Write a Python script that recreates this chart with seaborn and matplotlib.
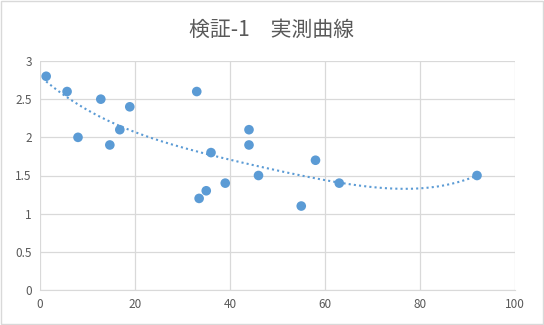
import numpy as np
import pandas as pd
import matplotlib
matplotlib.use("Agg")
import matplotlib.pyplot as plt
import seaborn as sns

x_vals = [1.3, 5.7, 8, 12.8, 14.7, 16.8, 18.9, 33, 33.5, 35, 36, 39, 44, 44, 46, 55, 58, 63, 92]
y_vals = [2.8, 2.6, 2.0, 2.5, 1.9, 2.1, 2.4, 2.6, 1.2, 1.3, 1.8, 1.4, 2.1, 1.9, 1.5, 1.1, 1.7, 1.4, 1.5]
# trend line as drawn in the source chart (read at several x positions)
trend_x = [1.3, 7, 14, 20, 27, 40, 52.6, 60, 68, 77, 85.6, 92]
trend_y = [2.71, 2.51, 2.23, 2.05, 1.91, 1.71, 1.54, 1.45, 1.35, 1.32, 1.38, 1.50]
title = "検証-1　実測曲線"
x_ticks = [0, 20, 40, 60, 80, 100]
y_ticks = [0, 0.5, 1, 1.5, 2, 2.5, 3]
y_labels = ["0", "0.5", "1", "1.5", "2", "2.5", "3"]

df = pd.DataFrame({"x": x_vals, "y": y_vals})

# smooth polynomial trend through the read values
coef = np.polyfit(trend_x, trend_y, 4)
xs = np.linspace(min(trend_x), max(trend_x), 200)
trend = pd.DataFrame({"x": xs, "y": np.polyval(coef, xs)})

sns.set_style("white")
plt.rcParams["font.family"] = ["Noto Sans CJK JP", "DejaVu Sans"]

fig = plt.figure(figsize=(5.44, 3.25), dpi=100)
ax = fig.add_axes([40 / 544, 1 - 290 / 325, 475 / 544, 229 / 325])

blue = "#5B9BD5"
sns.lineplot(data=trend, x="x", y="y", ax=ax, color=blue, linestyle=(0, (1, 1.5)),
             linewidth=1.5, zorder=2)
sns.scatterplot(data=df, x="x", y="y", ax=ax, color=blue, s=48, edgecolor="none", zorder=3)

ax.set_xlim(0, 100)
ax.set_ylim(0, 3)
ax.set_xticks(x_ticks)
ax.set_yticks(y_ticks)
ax.set_yticklabels(y_labels)
ax.grid(True, color="#d9d9d9", linewidth=0.9)
ax.set_axisbelow(True)
for side in ["top", "right", "left"]:
    ax.spines[side].set_visible(False)
ax.spines["bottom"].set_color("#d9d9d9")
ax.tick_params(axis="both", length=0, labelsize=8.5, colors="#595959", pad=6)
ax.set_xlabel("")
ax.set_ylabel("")

fig.text(0.5, 1 - 30 / 325, title, ha="center", va="center", fontsize=15, color="#595959")

# outer chart border
fig.patches.append(plt.Rectangle((0.002, 0.003), 0.996, 0.994, transform=fig.transFigure,
                                 fill=False, edgecolor="#d9d9d9", linewidth=1))

fig.savefig("out.png", dpi=100)
